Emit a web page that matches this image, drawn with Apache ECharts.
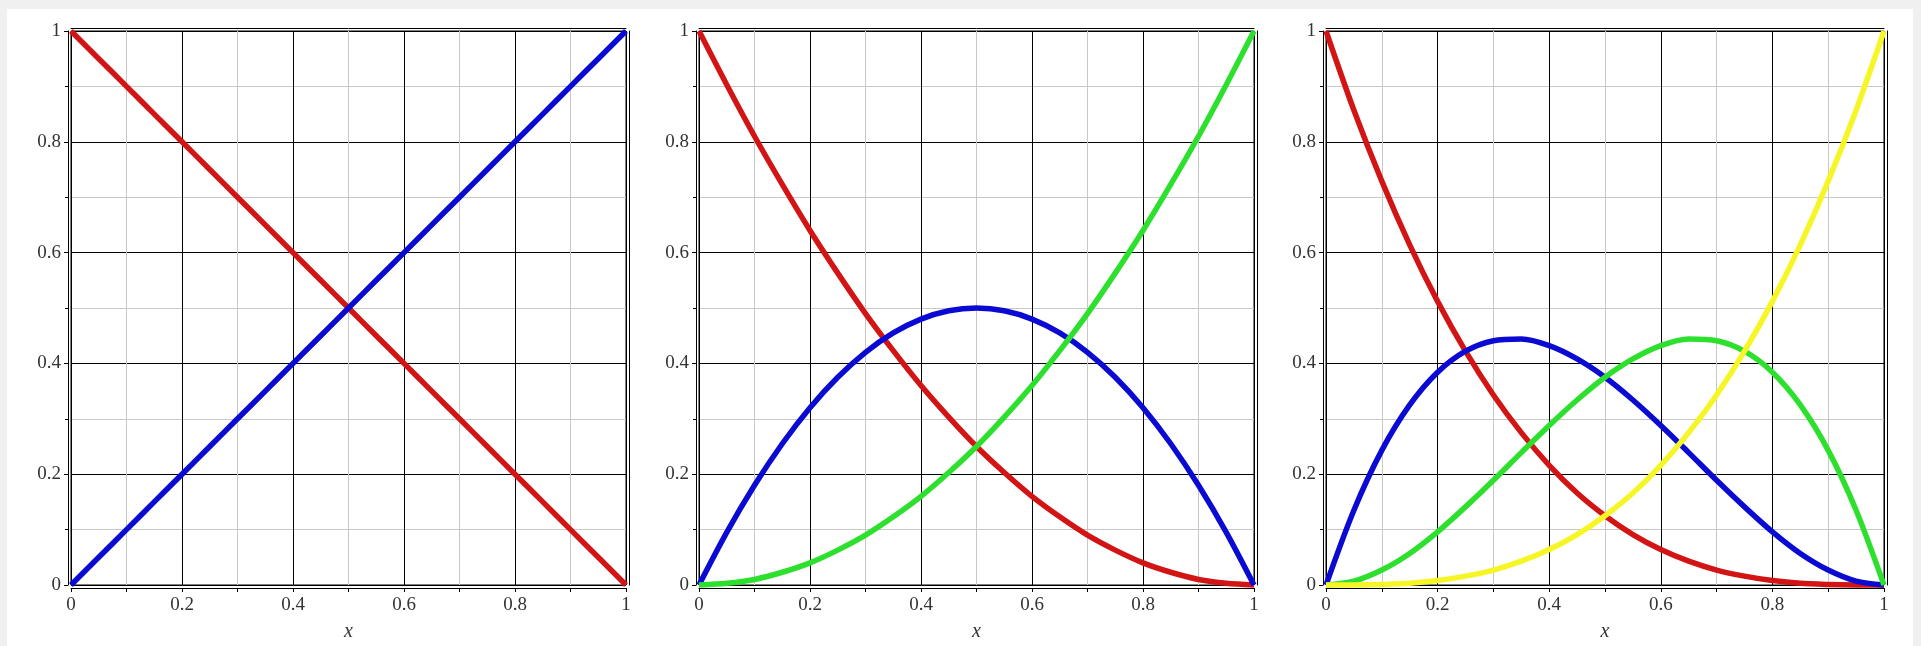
<!DOCTYPE html>
<html>
<head>
<meta charset="utf-8">
<script src="https://cdn.jsdelivr.net/npm/echarts@6/dist/echarts.min.js"></script>
<style>
  html, body { margin: 0; padding: 0; background: #f0f0f0; }
  #sheet { position: absolute; left: 7px; top: 9px; width: 1906px; height: 637px; background: #ffffff; }
  #chart { position: absolute; left: 0; top: 0; width: 1921px; height: 646px; }
</style>
</head>
<body>
<div id="sheet"></div>
<div id="chart"></div>
<script>
// sample positions along x
const xs = [0, 0.05, 0.1, 0.15, 0.2, 0.25, 0.3, 0.35, 0.4, 0.45, 0.5, 0.55, 0.6, 0.65, 0.7, 0.75, 0.8, 0.85, 0.9, 0.95, 1];

// degree 1
const b1Red  = [1, 0.95, 0.9, 0.85, 0.8, 0.75, 0.7, 0.65, 0.6, 0.55, 0.5, 0.45, 0.4, 0.35, 0.3, 0.25, 0.2, 0.15, 0.1, 0.05, 0];
const b1Blue = [0, 0.05, 0.1, 0.15, 0.2, 0.25, 0.3, 0.35, 0.4, 0.45, 0.5, 0.55, 0.6, 0.65, 0.7, 0.75, 0.8, 0.85, 0.9, 0.95, 1];

// degree 2
const b2Red   = [1, 0.903, 0.81, 0.723, 0.64, 0.563, 0.49, 0.423, 0.36, 0.303, 0.25, 0.203, 0.16, 0.123, 0.09, 0.063, 0.04, 0.023, 0.01, 0.003, 0];
const b2Blue  = [0, 0.095, 0.18, 0.255, 0.32, 0.375, 0.42, 0.455, 0.48, 0.495, 0.5, 0.495, 0.48, 0.455, 0.42, 0.375, 0.32, 0.255, 0.18, 0.095, 0];
const b2Green = [0, 0.003, 0.01, 0.023, 0.04, 0.063, 0.09, 0.123, 0.16, 0.203, 0.25, 0.303, 0.36, 0.423, 0.49, 0.563, 0.64, 0.723, 0.81, 0.903, 1];

// degree 3
const b3Red    = [1, 0.857, 0.729, 0.614, 0.512, 0.422, 0.343, 0.275, 0.216, 0.166, 0.125, 0.091, 0.064, 0.043, 0.027, 0.016, 0.008, 0.003, 0.001, 0.0001, 0];
const b3Blue   = [0, 0.135, 0.243, 0.325, 0.384, 0.422, 0.441, 0.444, 0.432, 0.408, 0.375, 0.334, 0.288, 0.239, 0.189, 0.141, 0.096, 0.057, 0.027, 0.007, 0];
const b3Green  = [0, 0.007, 0.027, 0.057, 0.096, 0.141, 0.189, 0.239, 0.288, 0.334, 0.375, 0.408, 0.432, 0.444, 0.441, 0.422, 0.384, 0.325, 0.243, 0.135, 0];
const b3Yellow = [0, 0.0001, 0.001, 0.003, 0.008, 0.016, 0.027, 0.043, 0.064, 0.091, 0.125, 0.166, 0.216, 0.275, 0.343, 0.422, 0.512, 0.614, 0.729, 0.857, 1];

// tick labels
const tickLabels = { 0: '0', 0.2: '0.2', 0.4: '0.4', 0.6: '0.6', 0.8: '0.8', 1: '1' };
const axisName = 'x';

const RED = '#d21414', BLUE = '#0a0ad2', GREEN = '#2ee02e', YELLOW = '#f6f626';

const panels = [
  { left: 71,   width: 555, curves: [[b1Red, RED], [b1Blue, BLUE]] },
  { left: 699,  width: 555, curves: [[b2Red, RED], [b2Blue, BLUE], [b2Green, GREEN]] },
  { left: 1326, width: 558, curves: [[b3Red, RED], [b3Blue, BLUE], [b3Green, GREEN], [b3Yellow, YELLOW]] }
];

const FONT = 'Liberation Serif';
const labelStyle = { fontFamily: FONT, fontSize: 19, color: '#333' };
const fmt = v => tickLabels[Math.round(v * 10) / 10] !== undefined ? tickLabels[Math.round(v * 10) / 10] : '';

const grid = [], xAxis = [], yAxis = [], series = [];

panels.forEach((p, i) => {
  grid.push({
    left: p.left, top: 31, width: p.width, height: 554,
    outerBoundsMode: 'none', containLabel: false,
    show: true, borderColor: '#000', borderWidth: 1, backgroundColor: 'transparent'
  });

  // main axes: outer frame line, ticks, labels, grid lines
  xAxis.push({
    type: 'value', gridIndex: i, min: 0, max: 1, interval: 0.2, offset: 3,
    name: axisName, nameLocation: 'middle', nameGap: 34,
    nameTextStyle: { fontFamily: FONT, fontStyle: 'italic', fontSize: 20, color: '#333' },
    axisLine: { show: true, onZero: false, lineStyle: { color: '#000', width: 1 } },
    axisTick: { show: true, length: 4, lineStyle: { color: '#000' } },
    minorTick: { show: true, splitNumber: 2, length: 4, lineStyle: { color: '#000' } },
    axisLabel: Object.assign({ margin: 8, formatter: fmt }, labelStyle),
    splitLine: { show: true, lineStyle: { color: '#000', width: 1 } },
    minorSplitLine: { show: true, lineStyle: { color: '#c8c8c8', width: 1 } }
  });
  yAxis.push({
    type: 'value', gridIndex: i, min: 0, max: 1, interval: 0.2, offset: 3,
    axisLine: { show: true, onZero: false, lineStyle: { color: '#000', width: 1 } },
    axisTick: { show: true, length: 4, lineStyle: { color: '#000' } },
    minorTick: { show: true, splitNumber: 2, length: 3, lineStyle: { color: '#000' } },
    axisLabel: Object.assign({ margin: 7, formatter: fmt }, labelStyle),
    splitLine: { show: true, lineStyle: { color: '#000', width: 1 } },
    minorSplitLine: { show: true, lineStyle: { color: '#c8c8c8', width: 1 } }
  });
  // top and right outer frame lines
  xAxis.push({
    type: 'value', gridIndex: i, min: 0, max: 1, position: 'top', offset: 3,
    axisLine: { show: true, onZero: false, lineStyle: { color: '#000', width: 1 } },
    axisTick: { show: false }, axisLabel: { show: false }, splitLine: { show: false }
  });
  yAxis.push({
    type: 'value', gridIndex: i, min: 0, max: 1, position: 'right', offset: 3,
    axisLine: { show: true, onZero: false, lineStyle: { color: '#000', width: 1 } },
    axisTick: { show: false }, axisLabel: { show: false }, splitLine: { show: false }
  });

  p.curves.forEach(([vals, color]) => {
    series.push({
      type: 'line', xAxisIndex: i * 2, yAxisIndex: i * 2,
      data: xs.map((x, k) => [x, vals[k]]),
      smooth: 0.3, showSymbol: false, symbol: 'none',
      lineStyle: { color: color, width: 5.5 },
      clip: false, animation: false
    });
  });
});

const chart = echarts.init(document.getElementById('chart'), null, { renderer: 'canvas' });
chart.setOption({ animation: false, grid, xAxis, yAxis, series });
</script>
</body>
</html>
